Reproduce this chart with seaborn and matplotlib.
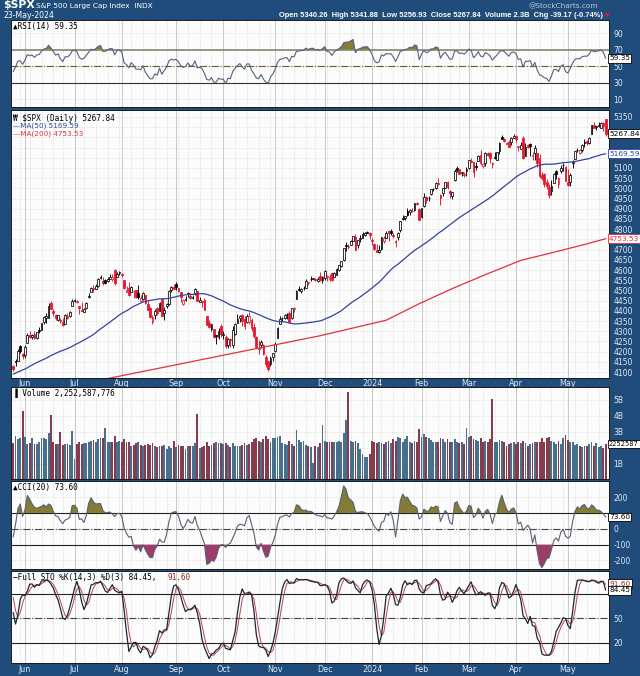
import numpy as np
import pandas as pd
import matplotlib
matplotlib.use("Agg")
import matplotlib.pyplot as plt
import matplotlib.transforms as mtrans
import seaborn as sns

# ---------------- data ----------------
holidays = ["2023-05-29", "2023-06-19", "2023-07-04", "2023-09-04", "2023-11-23",
            "2023-12-25", "2024-01-01", "2024-01-15", "2024-02-19", "2024-03-29"]

# earlier closes (15-Mar-2023 .. 10-Apr-2023), only for the 50-day average
early_close = [3891.93, 3960.28, 3916.64, 3951.57, 4002.87, 3936.97, 3948.72, 3970.99, 3977.53,
               3971.27, 4027.81, 4050.83, 4109.31, 4124.51, 4100.60, 4090.38, 4105.02, 4109.11]

# warm-up sessions (11-Apr-2023 .. 23-May-2023) used only for the indicators
pre_open = [4110, 4121, 4100, 4140, 4137, 4164, 4140, 4130, 4133, 4132, 4127, 4088, 4075, 4130, 4167, 4164,
            4123, 4083, 4085, 4137, 4125, 4143, 4133, 4139, 4127, 4127, 4122, 4157, 4204, 4191, 4176]
pre_high = [4124, 4131, 4150, 4164, 4152, 4170, 4163, 4149, 4138, 4143, 4127, 4089, 4138, 4170, 4185, 4164,
            4148, 4083, 4143, 4143, 4131, 4154, 4133, 4143, 4141, 4136, 4164, 4199, 4213, 4210, 4185]
pre_low = [4103, 4086, 4099, 4114, 4124, 4141, 4136, 4114, 4113, 4117, 4071, 4049, 4075, 4127, 4164, 4089,
           4088, 4048, 4085, 4124, 4116, 4099, 4099, 4099, 4110, 4110, 4114, 4150, 4181, 4180, 4143]
pre_close = [4109, 4092, 4146, 4138, 4151, 4155, 4155, 4130, 4134, 4137, 4072, 4056, 4135, 4169, 4168, 4119,
             4091, 4061, 4136, 4138, 4119, 4138, 4131, 4124, 4136, 4110, 4159, 4198, 4192, 4193, 4146]

opens = [4132, 4156, 4156, 4226, 4190,
         4183, 4241, 4282, 4271, 4285, 4269, 4304, 4308, 4345, 4366, 4366, 4440, 4397, 4380, 4355, 4355, 4345, 4337, 4367, 4375, 4422,
         4450, 4443, 4423, 4405, 4395, 4416, 4467, 4492, 4514, 4509, 4522, 4563, 4546, 4550, 4544, 4555, 4558, 4598, 4565, 4585,
         4579, 4551, 4494, 4514, 4491, 4498, 4502, 4487, 4450, 4459, 4479, 4434, 4416, 4345, 4380, 4415, 4397, 4456, 4389, 4426, 4433, 4500, 4518,
         4530, 4511, 4491, 4434, 4451, 4481, 4474, 4463, 4487, 4497, 4445, 4446, 4452, 4375, 4342, 4310, 4312, 4282, 4270, 4328,
         4284, 4270, 4234, 4260, 4234, 4289, 4339, 4366, 4381, 4360, 4343, 4346, 4357, 4321, 4274, 4211, 4235, 4233, 4176, 4153, 4140, 4172,
         4201, 4268, 4335, 4364, 4366, 4385, 4391, 4365, 4407, 4458, 4505, 4497, 4510, 4512, 4538, 4554, 4555, 4555, 4545, 4571, 4549,
         4559, 4564, 4558, 4587, 4568, 4576, 4601, 4618, 4647, 4722, 4714, 4725, 4744, 4764, 4724, 4753, 4759, 4773, 4787, 4783,
         4745, 4726, 4697, 4690, 4703, 4742, 4759, 4792, 4792, 4772, 4740, 4761, 4797, 4854, 4856, 4889, 4886, 4888, 4892, 4925, 4899,
         4862, 4916, 4957, 4951, 4974, 4996, 5004, 5027, 4968, 4977, 5004, 5032, 4989, 4964, 5039, 5100, 5093, 5074, 5067, 5085,
         5098, 5131, 5130, 5109, 5133, 5164, 5111, 5125, 5174, 5175, 5124, 5155, 5140, 5181, 5253, 5242, 5220, 5226, 5226, 5248,
         5258, 5205, 5195, 5245, 5158, 5211, 5217, 5160, 5172, 5172, 5150, 5064, 5068, 5032, 5006, 4988, 5028, 5085, 5020, 5084, 5114, 5103,
         5030, 5033, 5123, 5143, 5188, 5171, 5189, 5226, 5234, 5222, 5264, 5310, 5303, 5306, 5298, 5320, 5340.26]
highs = [4133, 4165, 4212, 4231, 4195,
         4232, 4290, 4299, 4289, 4299, 4298, 4322, 4340, 4375, 4391, 4439, 4448, 4408, 4386, 4382, 4366, 4363, 4384, 4390, 4398, 4458,
         4457, 4454, 4423, 4443, 4413, 4443, 4489, 4517, 4528, 4532, 4563, 4578, 4565, 4555, 4568, 4581, 4582, 4607, 4590, 4595,
         4584, 4551, 4520, 4540, 4520, 4503, 4503, 4528, 4476, 4490, 4479, 4449, 4421, 4382, 4407, 4418, 4443, 4458, 4419, 4440, 4501, 4521, 4532,
         4541, 4514, 4491, 4457, 4473, 4490, 4488, 4479, 4511, 4497, 4466, 4449, 4461, 4376, 4357, 4338, 4313, 4282, 4318, 4334,
         4300, 4281, 4268, 4268, 4324, 4341, 4385, 4378, 4385, 4377, 4383, 4394, 4364, 4340, 4276, 4255, 4259, 4236, 4185, 4156, 4177, 4195,
         4245, 4319, 4374, 4372, 4386, 4391, 4400, 4415, 4421, 4503, 4521, 4512, 4520, 4557, 4542, 4569, 4561, 4562, 4568, 4588, 4570,
         4599, 4575, 4579, 4590, 4591, 4610, 4623, 4644, 4710, 4738, 4726, 4749, 4769, 4778, 4748, 4773, 4784, 4785, 4793, 4788,
         4755, 4730, 4727, 4721, 4764, 4765, 4791, 4798, 4803, 4783, 4745, 4784, 4842, 4868, 4866, 4903, 4898, 4906, 4929, 4932, 4906,
         4906, 4975, 4963, 4965, 4999, 5000, 5031, 5049, 4971, 5002, 5032, 5038, 4993, 4983, 5094, 5111, 5097, 5080, 5079, 5104,
         5140, 5149, 5131, 5128, 5165, 5190, 5125, 5179, 5180, 5180, 5128, 5176, 5179, 5225, 5262, 5246, 5229, 5235, 5250, 5264,
         5263, 5209, 5229, 5256, 5222, 5219, 5224, 5178, 5211, 5175, 5169, 5079, 5077, 5046, 5020, 5039, 5076, 5089, 5057, 5114, 5124, 5110,
         5096, 5073, 5139, 5181, 5200, 5191, 5215, 5240, 5238, 5250, 5311, 5326, 5305, 5325, 5324, 5326, 5341.88]
lows = [4104, 4129, 4156, 4193, 4166,
        4171, 4241, 4267, 4264, 4264, 4261, 4293, 4305, 4337, 4340, 4363, 4407, 4377, 4353, 4352, 4342, 4328, 4336, 4360, 4372, 4422,
        4443, 4437, 4385, 4398, 4393, 4409, 4463, 4491, 4494, 4505, 4515, 4557, 4527, 4531, 4542, 4555, 4548, 4528, 4564, 4577,
        4567, 4505, 4492, 4474, 4491, 4464, 4462, 4458, 4444, 4453, 4433, 4403, 4365, 4335, 4360, 4382, 4397, 4375, 4357, 4412, 4431, 4493, 4507,
        4501, 4492, 4442, 4430, 4448, 4467, 4457, 4456, 4478, 4447, 4442, 4417, 4402, 4329, 4316, 4302, 4265, 4238, 4264, 4274,
        4260, 4220, 4220, 4225, 4220, 4284, 4339, 4345, 4325, 4311, 4342, 4338, 4303, 4269, 4224, 4190, 4219, 4183, 4127, 4104, 4132, 4154,
        4197, 4268, 4335, 4348, 4360, 4358, 4346, 4361, 4394, 4458, 4495, 4488, 4503, 4511, 4526, 4545, 4554, 4546, 4541, 4546, 4537,
        4552, 4544, 4546, 4547, 4566, 4574, 4593, 4616, 4644, 4694, 4703, 4725, 4743, 4697, 4708, 4738, 4758, 4769, 4780, 4751,
        4723, 4700, 4688, 4683, 4700, 4730, 4756, 4740, 4770, 4755, 4714, 4749, 4786, 4844, 4844, 4865, 4870, 4882, 4887, 4917, 4845,
        4853, 4907, 4928, 4937, 4970, 4988, 4999, 5017, 4920, 4961, 5001, 4999, 4953, 4947, 5034, 5081, 5068, 5060, 5058, 5061,
        5094, 5128, 5057, 5091, 5133, 5114, 5101, 5111, 5161, 5125, 5102, 5145, 5139, 5170, 5241, 5229, 5216, 5203, 5212, 5246,
        5229, 5185, 5195, 5146, 5157, 5197, 5160, 5138, 5138, 5107, 5053, 5039, 5009, 4998, 4954, 4969, 5027, 5047, 5002, 5073, 5085, 5035,
        5013, 5011, 5102, 5143, 5178, 5166, 5176, 5204, 5211, 5217, 5264, 5297, 5284, 5299, 5298, 5280, 5256.93]
closes = [4115.24, 4151.28, 4205.45, 4205.52, 4179.83,
          4221.02, 4282.37, 4273.79, 4283.85, 4267.52, 4293.93, 4298.86, 4338.93, 4369.01, 4372.59, 4425.84, 4409.59, 4388.71, 4365.69, 4381.89, 4348.33, 4328.82, 4378.41, 4376.86, 4396.44, 4450.38,
          4455.59, 4446.82, 4411.59, 4398.95, 4409.53, 4439.26, 4472.16, 4510.04, 4505.42, 4522.79, 4554.98, 4565.72, 4534.87, 4536.34, 4554.64, 4567.46, 4566.75, 4537.41, 4582.23, 4588.96,
          4576.73, 4513.39, 4501.89, 4478.03, 4518.44, 4499.38, 4467.71, 4468.83, 4464.05, 4489.72, 4437.86, 4404.33, 4370.36, 4369.71, 4399.77, 4387.55, 4436.01, 4376.31, 4405.71, 4433.31, 4497.63, 4514.87, 4507.66,
          4515.77, 4496.83, 4465.48, 4451.14, 4457.49, 4487.46, 4461.90, 4467.44, 4505.10, 4450.32, 4453.53, 4443.95, 4402.20, 4330.00, 4320.06, 4337.44, 4273.53, 4274.51, 4299.70, 4288.05,
          4288.39, 4229.45, 4263.75, 4258.19, 4308.50, 4335.66, 4358.24, 4376.95, 4349.61, 4327.78, 4373.63, 4373.20, 4314.60, 4278.00, 4224.16, 4217.04, 4247.68, 4186.77, 4137.23, 4117.37, 4166.82, 4193.80,
          4237.86, 4317.78, 4358.34, 4365.98, 4378.38, 4382.78, 4347.35, 4415.24, 4411.55, 4495.70, 4502.88, 4508.24, 4514.02, 4547.38, 4538.19, 4556.62, 4559.34, 4550.43, 4554.89, 4550.58, 4567.80,
          4594.63, 4569.78, 4567.18, 4549.34, 4585.59, 4604.37, 4622.44, 4643.70, 4707.09, 4719.55, 4719.19, 4740.56, 4768.37, 4698.35, 4746.75, 4754.63, 4774.75, 4781.58, 4783.35, 4769.83,
          4742.83, 4704.81, 4688.68, 4697.24, 4763.54, 4756.50, 4783.45, 4780.24, 4783.83, 4765.98, 4739.21, 4780.94, 4839.81, 4850.43, 4864.60, 4868.55, 4894.16, 4890.97, 4927.93, 4924.97, 4845.65,
          4906.19, 4958.61, 4942.81, 4954.23, 4995.06, 4997.91, 5026.61, 5021.84, 4953.17, 5000.62, 5029.73, 5005.57, 4975.51, 4981.80, 5087.03, 5088.80, 5069.53, 5078.18, 5069.76, 5096.27,
          5137.08, 5130.95, 5078.65, 5104.76, 5157.36, 5123.69, 5117.94, 5175.27, 5165.31, 5150.48, 5117.09, 5149.42, 5178.51, 5224.62, 5241.53, 5234.18, 5218.19, 5203.58, 5248.49, 5254.35,
          5243.77, 5205.81, 5211.49, 5147.21, 5204.34, 5202.39, 5209.91, 5160.64, 5199.06, 5123.41, 5061.82, 5051.41, 5022.21, 5011.12, 4967.23, 5010.60, 5070.55, 5071.63, 5048.42, 5099.96, 5116.17, 5035.69,
          5018.39, 5064.20, 5127.79, 5180.74, 5187.70, 5187.67, 5214.08, 5222.68, 5221.42, 5246.68, 5308.15, 5297.10, 5303.27, 5308.13, 5321.41, 5307.01, 5267.84]
volume_b = [2.30, 2.75, 2.55, 2.60, 4.30, 2.70, 2.25, 2.30, 2.65, 2.25,
            2.25, 2.40, 2.60, 2.65, 2.55, 2.95, 4.05, 2.35, 2.25, 2.25,
            3.00, 2.20, 2.25, 2.25, 2.20, 3.05, 1.30, 2.25, 2.35, 2.25,
            2.30, 2.30, 2.40, 2.45, 2.50, 2.40, 2.55, 2.60, 2.65, 3.25,
            2.35, 2.40, 2.40, 2.75, 2.35, 2.45, 2.35, 2.55, 2.40, 2.35,
            2.10, 2.20, 2.30, 2.35, 2.20, 2.15, 2.20, 2.25, 2.20, 2.30,
            2.10, 2.05, 2.15, 2.10, 2.20, 1.95, 2.10, 2.00, 2.45, 2.05,
            2.20, 2.15, 2.10, 1.95, 2.10, 2.10, 2.10, 2.30, 4.10, 2.00,
            2.05, 2.10, 2.35, 2.15, 2.20, 2.30, 2.40, 2.30, 2.30, 2.25,
            2.30, 2.20, 2.05, 2.30, 2.10, 2.15, 2.10, 2.20, 2.30, 2.20,
            2.25, 2.40, 2.55, 2.65, 2.45, 2.40, 2.55, 2.75, 2.55, 2.40,
            2.60, 2.65, 2.70, 2.75, 2.30, 2.25, 2.20, 2.45, 2.25, 2.15,
            3.15, 2.50, 2.40, 2.45, 2.20, 2.15, 2.05, 1.05, 2.10, 2.05,
            2.30, 3.45, 2.45, 2.40, 2.40, 2.35, 2.40, 2.35, 2.45, 2.40,
            2.95, 3.75, 5.50, 2.45, 2.35, 2.45, 2.30, 1.95, 1.60, 1.45,
            1.45, 1.65, 2.45, 2.40, 2.30, 2.35, 2.30, 2.25, 2.40, 2.45,
            2.30, 2.55, 2.45, 2.70, 2.65, 2.40, 2.55, 2.75, 2.35, 2.30,
            2.45, 2.35, 3.20, 2.70, 2.85, 2.70, 2.60, 2.50, 2.40, 2.35,
            2.40, 2.65, 2.55, 2.40, 2.55, 2.35, 2.40, 2.55, 2.35, 2.30,
            2.35, 2.25, 3.25, 2.70, 2.75, 2.55, 2.50, 2.45, 2.65, 2.40,
            2.45, 2.35, 2.55, 5.05, 2.35, 2.40, 2.50, 2.45, 2.35, 2.15,
            2.25, 2.30, 2.40, 2.25, 2.35, 2.30, 2.45, 2.30, 2.15, 2.25,
            2.30, 2.35, 2.40, 2.35, 2.65, 2.40, 2.60, 2.70, 2.45, 2.35,
            2.25, 2.45, 2.25, 2.60, 2.80, 2.50, 2.40, 2.35, 2.20, 2.25,
            2.10, 2.05, 2.15, 2.10, 2.25, 2.35, 2.15, 2.30, 2.05, 2.10,
            2.00, 2.25]

ma200_day = [0, 45, 70, 93, 112, 130, 144, 158, 172, 186, 201, 215, 229, 243, 251]
ma200_val = [3975, 4080, 4138, 4192, 4236, 4278, 4316, 4354, 4435, 4509, 4582, 4647, 4687, 4728, 4753.53]

price_ticks = list(range(4100, 5351, 50))
rsi_ticks = [10, 30, 50, 70, 90]
vol_ticks = [1, 2, 3, 4, 5]
cci_ticks = [-200, -100, 0, 100, 200]
sto_ticks = [20, 50, 80]

# ---------------- derived series ----------------
dates = pd.bdate_range("2023-05-24", "2024-05-23")
dates = dates[~dates.isin(pd.to_datetime(holidays))]
n = len(closes)
x = np.arange(n)
o = np.array(opens, float); h = np.array(highs, float); l = np.array(lows, float); c = np.array(closes, float)
np_ = len(pre_close)
C = pd.Series(np.r_[pre_close, c]); Hh = pd.Series(np.r_[pre_high, h]); Ll = pd.Series(np.r_[pre_low, l])

ma50 = pd.Series(np.r_[early_close, pre_close, c]).rolling(50).mean().values[-n:]

d = C.diff()
ag = d.clip(lower=0).ewm(alpha=1/14, adjust=False).mean()
al = (-d).clip(lower=0).ewm(alpha=1/14, adjust=False).mean()
rsi = (100 - 100 / (1 + ag / al)).values[np_:]

tp = (Hh + Ll + C) / 3
sma = tp.rolling(20).mean()
md = tp.rolling(20).apply(lambda s: np.mean(np.abs(s - s.mean())), raw=True)
cci = ((tp - sma) / (0.015 * md)).values[np_:]

ll14 = Ll.rolling(14).min(); hh14 = Hh.rolling(14).max()
fk = 100 * (C - ll14) / (hh14 - ll14)
k_full = fk.rolling(3).mean()
d_full = k_full.rolling(3).mean()
sto_k = k_full.values[np_:]; sto_d = d_full.values[np_:]

prev_c = np.r_[pre_close[-1], c[:-1]]
up_day = c >= prev_c

month_starts = [i for i in range(1, n) if dates[i].month != dates[i - 1].month]
month_labels = ["2024" if dates[i].month == 1 else dates[i].strftime("%b") for i in month_starts]
week_starts = [i for i in range(1, n) if dates[i].weekday() < dates[i - 1].weekday()]

# ---------------- figure ----------------
sns.set_theme(style="white")
plt.rcParams['font.family'] = ['DejaVu Sans']
W, Hpx = 640, 676
BG = '#1f4c7a'
LBL = '#e2eaf4'
RED = '#e3162e'
OLIVE = '#867b36'
MAROON = '#9c3c68'
fig = plt.figure(figsize=(6.4, 6.76), dpi=100)
fig.patch.set_facecolor(BG)


def add_ax(top, bottom, left=11, right=609):
    return fig.add_axes([left / W, 1 - bottom / Hpx, (right - left) / W, (bottom - top) / Hpx])


def style(ax, ticks, ylim, labels):
    ax.set_xlim(-0.93, 252.4)
    ax.set_ylim(*ylim)
    ax.set_facecolor('#fcfcfd')
    for s in ax.spines.values():
        s.set_color('#1a1a1a'); s.set_linewidth(0.7)
    for w in week_starts:
        ax.axvline(w, color='#cdcdc4', lw=0.5, ls=(0, (1, 1.6)), zorder=0)
    for m in month_starts:
        ax.axvline(m, color='#c2c2c2', lw=0.6, zorder=0)
    for t in ticks:
        ax.axhline(t, color='#d2d2c0', lw=0.5, ls=(0, (1, 1.6)), zorder=0)
    ax.yaxis.tick_right()
    ax.set_yticks(ticks)
    ax.set_yticklabels(labels)
    ax.tick_params(axis='y', length=0, pad=3, labelsize=5.5, labelcolor=LBL)
    ax.set_xticks([])
    ax.set_xlabel(''); ax.set_ylabel('')


def visible(ticks, boxes, gap, fmt=str):
    # labels hidden behind the value boxes, as on the reference
    return ['' if any(abs(t - b) < gap for b in boxes) else fmt(t) for t in ticks]


def vbox(ax, y, txt, tc='black', ec='black', fs=5.3):
    tr = mtrans.blended_transform_factory(ax.transAxes, ax.transData)
    ax.text(1.0, y, txt, transform=tr, ha='left', va='center', fontsize=fs, color=tc,
            bbox=dict(boxstyle='square,pad=0.18', fc='white', ec=ec, lw=0.6), clip_on=False, zorder=30)


def title(ax, y, txt, color='black', mono=True, fs=5.6):
    ax.text(0.004, y, txt, transform=ax.transAxes, ha='left', va='top', fontsize=fs, color=color,
            family='DejaVu Sans Mono' if mono else 'DejaVu Sans', zorder=25)


# ---- RSI ----
ax_rsi = add_ax(20, 107)
ax_rsi.fill_between(x, 70, rsi, where=rsi >= 70, interpolate=True, color=OLIVE, lw=0, zorder=2)
ax_rsi.fill_between(x, 30, rsi, where=rsi <= 30, interpolate=True, color=MAROON, lw=0, zorder=2)
ax_rsi.axhline(70, color='#7b7b68', lw=1.1, zorder=1)
ax_rsi.axhline(30, color='#333333', lw=0.8, zorder=1)
ax_rsi.axhline(50, color='#5f5f30', lw=0.8, ls='-.', zorder=1)
sns.lineplot(x=x, y=rsi, ax=ax_rsi, color='#52627a', linewidth=0.8, legend=False, zorder=3)
style(ax_rsi, rsi_ticks, (0.3, 105.8), rsi_ticks)
title(ax_rsi, 0.98, "\u25B2RSI(14) 59.35")
vbox(ax_rsi, 59.35, "59.35")

# ---- Price ----
ax_px = add_ax(110, 378)
red_or_black = np.where(up_day, 'black', RED)
ax_px.vlines(x, l, h, colors=red_or_black, lw=0.65, zorder=3)
body_low = np.minimum(o, c)
body_h = np.maximum(np.abs(c - o), 1.2)
face = np.where(c >= o, 'white', red_or_black)
ax_px.bar(x, body_h, bottom=body_low, width=0.75, color=face, edgecolor=red_or_black, linewidth=0.55, zorder=4)
sns.lineplot(x=x, y=ma50, ax=ax_px, color='#3343a0', linewidth=0.9, legend=False, zorder=5)
sns.lineplot(x=ma200_day, y=ma200_val, ax=ax_px, color='#e0303c', linewidth=0.9, legend=False, zorder=5)
style(ax_px, price_ticks, (4071, 5384), visible(price_ticks, [5267.84, 5169.59, 4753.53], 36))
ax_px.set_xticks(month_starts)
ax_px.set_xticklabels(month_labels)
ax_px.tick_params(axis='x', length=0, pad=1, labelsize=5.8, labelcolor=LBL)
title(ax_px, 0.985, "\u20A9 $SPX (Daily) 5267.84")
title(ax_px, 0.955, "\u2014MA(50) 5169.59", color='#3343a0', mono=False, fs=5.2)
title(ax_px, 0.925, "\u2014MA(200) 4753.53", color='#e0303c', mono=False, fs=5.2)
vbox(ax_px, 5267.84, "5267.84")
vbox(ax_px, 5169.59, "5169.59", tc='#3343a0', ec='#3343a0')
vbox(ax_px, 4753.53, "4753.53", tc='#e0303c', ec='#e0303c')

# ---- Volume ----
ax_vol = add_ax(387, 479)
ax_vol.bar(x, volume_b, width=0.78, color=np.where(up_day, '#47708f', '#873c4d'), linewidth=0, zorder=3)
style(ax_vol, vol_ticks, (0.06, 5.81), visible(vol_ticks, [2.2526], 0.5, lambda v: f"{v}B"))
title(ax_vol, 0.985, "\u2590 Volume 2,252,587,776")
vbox(ax_vol, 2.2526, "2252587", fs=4.8)

# ---- CCI ----
ax_cci = add_ax(481, 569)
ax_cci.fill_between(x, 100, cci, where=cci >= 100, interpolate=True, color=OLIVE, lw=0, zorder=2)
ax_cci.fill_between(x, -100, cci, where=cci <= -100, interpolate=True, color=MAROON, lw=0, zorder=2)
ax_cci.axhline(100, color='#222222', lw=0.8, zorder=1)
ax_cci.axhline(-100, color='#222222', lw=0.8, zorder=1)
ax_cci.axhline(0, color='#444444', lw=0.8, ls='-.', zorder=1)
sns.lineplot(x=x, y=cci, ax=ax_cci, color='#56606e', linewidth=0.8, legend=False, zorder=3)
style(ax_cci, cci_ticks, (-254, 302), visible(cci_ticks, [73.60], 40))
title(ax_cci, 0.98, "\u25B2CCI(20) 73.60")
vbox(ax_cci, 73.60, "73.60")

# ---- Full Stochastics ----
ax_sto = add_ax(571, 663)
ax_sto.axhline(80, color='#222222', lw=0.8, zorder=1)
ax_sto.axhline(20, color='#222222', lw=0.8, zorder=1)
ax_sto.axhline(50, color='#444444', lw=0.8, ls='-.', zorder=1)
sns.lineplot(x=x, y=sto_d, ax=ax_sto, color='#b5484e', linewidth=0.7, legend=False, zorder=3)
sns.lineplot(x=x, y=sto_k, ax=ax_sto, color='#1e2538', linewidth=0.9, legend=False, zorder=4)
style(ax_sto, sto_ticks, (-4.5, 107.6), visible(sto_ticks, [84.45, 91.60], 8))
ax_sto.set_xticks(month_starts)
ax_sto.set_xticklabels(month_labels)
ax_sto.tick_params(axis='x', length=0, pad=1.5, labelsize=5.8, labelcolor=LBL)
title(ax_sto, 0.975, "\u2014Full STO %K(14,3) %D(3) 84.45,")
ax_sto.text(0.262, 0.975, "91.60", transform=ax_sto.transAxes, ha='left', va='top', fontsize=5.6,
            color='#8b2a2a', family='DejaVu Sans Mono', zorder=25)
vbox(ax_sto, 92.2, "91.60", tc='#8b2a2a')
vbox(ax_sto, 83.9, "84.45")

# ---- header ----
def ftext(px, py, s, **kw):
    fig.text(px / W, 1 - py / Hpx, s, **kw)

ftext(3, 5.5, "$SPX", color='white', fontsize=7.8, fontweight='bold', va='center', ha='left')
ftext(36, 6, "S&P 500 Large Cap Index  INDX", color='white', fontsize=5.3, va='center', ha='left')
ftext(3, 15.5, "23-May-2024", color='white', fontsize=5.6, va='center', ha='left')
ftext(598, 6, "@StockCharts.com", color='#b8c8da', fontsize=5.3, va='center', ha='right')
ftext(603, 15.5, "Open 5340.26  High 5341.88  Low 5256.93  Close 5267.84  Volume 2.3B  Chg -39.17 (-0.74%)",
      color='white', fontsize=5.4, fontweight='bold', va='center', ha='right', family='Liberation Sans')
ftext(605, 16, "\u25BC", color=RED, fontsize=4.5, va='center', ha='left')

fig.savefig("out.png", dpi=100, facecolor=BG)
